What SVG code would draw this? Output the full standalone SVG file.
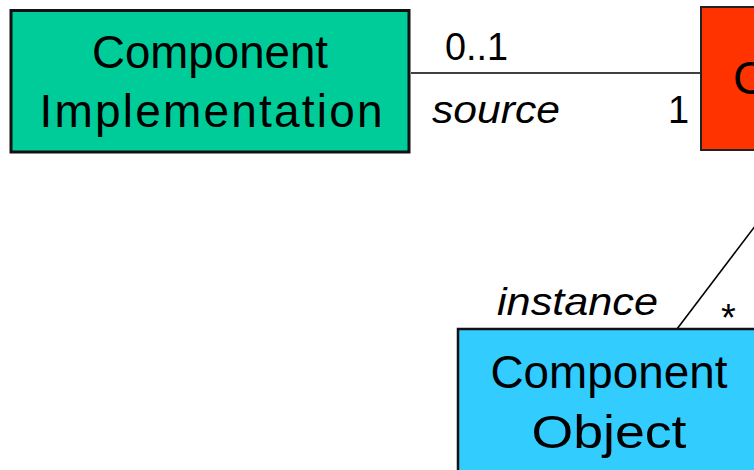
<svg xmlns="http://www.w3.org/2000/svg" width="754" height="470" viewBox="0 0 754 470">
  <style>
    .box-text { font-family: "Liberation Sans", Arial, sans-serif; font-size: 46px; fill: #000; }
    .label { font-family: "Liberation Sans", Arial, sans-serif; font-size: 38px; fill: #000; }
    .role { font-style: italic; }
    .conn { stroke: #000; stroke-width: 1.6; fill: none; }
  </style>
  <rect width="754" height="470" fill="#ffffff"/>
  <g id="connectors">
    <line class="conn" x1="411" y1="73" x2="701" y2="73"/>
    <line class="conn" x1="677" y1="329" x2="812" y2="151"/>
    <text class="label" x="445" y="60" textLength="63" lengthAdjust="spacingAndGlyphs">0..1</text>
    <text class="label role" x="432" y="123" textLength="128" lengthAdjust="spacingAndGlyphs">source</text>
    <text class="label" x="668" y="123">1</text>
    <text class="label role" x="497" y="315" textLength="161" lengthAdjust="spacingAndGlyphs">instance</text>
    <text class="label" x="721" y="331">*</text>
  </g>
  <g id="component-implementation">
    <rect x="11" y="10.5" width="398" height="141.5" fill="#00CC99" stroke="#111" stroke-width="3"/>
    <text class="box-text" x="210" y="68" text-anchor="middle" textLength="236" lengthAdjust="spacingAndGlyphs">Component</text>
    <text class="box-text" x="211" y="127" text-anchor="middle" textLength="343" lengthAdjust="spacing">Implementation</text>
  </g>
  <g id="component">
    <rect x="701" y="7" width="90" height="143" fill="#FF3300" stroke="#222" stroke-width="2"/>
    <text class="box-text" x="733" y="94">Component</text>
  </g>
  <g id="component-object">
    <rect x="458" y="329" width="310" height="160" fill="#33CCFF" stroke="#111" stroke-width="2.5"/>
    <text class="box-text" x="609" y="388" text-anchor="middle" textLength="237" lengthAdjust="spacingAndGlyphs">Component</text>
    <text class="box-text" x="609" y="448" text-anchor="middle" textLength="155" lengthAdjust="spacingAndGlyphs">Object</text>
  </g>
</svg>
